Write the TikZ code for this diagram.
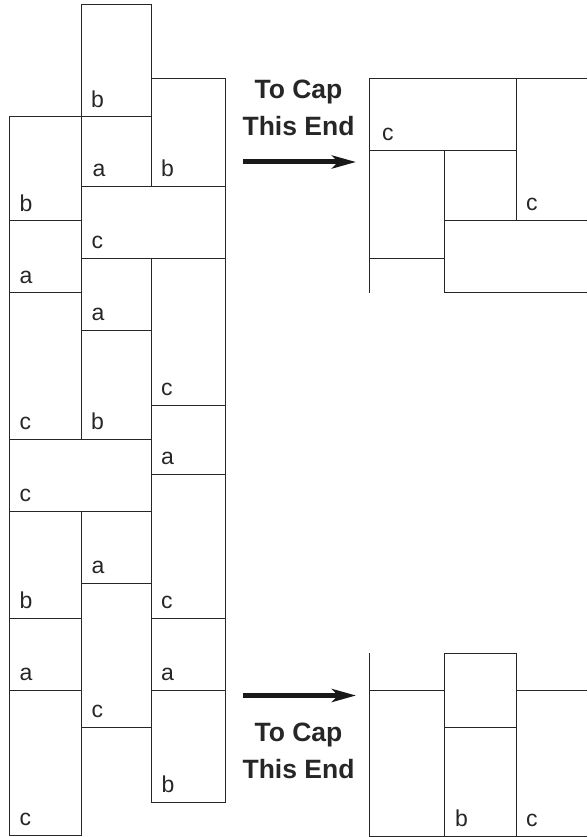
\documentclass[tikz,border=0pt]{standalone}
\usepackage{fontspec}
\setmainfont{Liberation Sans}
\usetikzlibrary{arrows.meta}

\begin{document}
\begin{tikzpicture}[
    x=1pt, y=-1pt,
    brick/.style={draw=black!85, line width=1pt},
    tag/.style={font=\fontsize{23}{26}\selectfont, text=black!85, anchor=base west, inner sep=0pt},
    note/.style={font=\fontsize{26.5}{37}\selectfont\bfseries, text=black!85, align=center, anchor=base, inner sep=0pt},
    capto/.style={-{Stealth[length=24pt, width=13pt, inset=6pt]}, line width=5pt, black!90},
]
\useasboundingbox (0,0) rectangle (587,837);

% left column
\draw[brick] (9.5,117) rectangle (81.5,220.5);
\draw[brick] (9.5,220.5) rectangle (81.5,292.5);
\draw[brick] (9.5,292.5) rectangle (81.5,439);
\draw[brick] (9.5,439) rectangle (151,511);
\draw[brick] (9.5,511) rectangle (81.5,618);
\draw[brick] (9.5,618) rectangle (81.5,690);
\draw[brick] (9.5,690) rectangle (81.5,835);
\node[tag] (l1) at (19.5,211) {b};
\node[tag] (l2) at (19.5,283) {a};
\node[tag] (l3) at (19.5,429.5) {c};
\node[tag] (l4) at (19.5,501.5) {c};
\node[tag] (l5) at (19.5,608.5) {b};
\node[tag] (l6) at (19.5,680.5) {a};
\node[tag] (l7) at (19.5,825.5) {c};

% middle column
\draw[brick] (81.5,5) rectangle (151,117);
\draw[brick] (81.5,117) rectangle (151,186);
\draw[brick] (81.5,186) rectangle (225,258);
\draw[brick] (81.5,258) rectangle (151,330);
\draw[brick] (81.5,330) rectangle (151,439);
\draw[brick] (81.5,511) rectangle (151,583);
\draw[brick] (81.5,583) rectangle (151,727);
\node[tag] (m1) at (91,107.5) {b};
\node[tag] (m2) at (92.5,176.5) {a};
\node[tag] (m3) at (91.5,248.5) {c};
\node[tag] (m4) at (91.5,320.5) {a};
\node[tag] (m5) at (91,429.5) {b};
\node[tag] (m6) at (91.5,573.5) {a};
\node[tag] (m7) at (91.5,717.5) {c};

% right column
\draw[brick] (151,79) rectangle (225,186);
\draw[brick] (151,258) rectangle (225,405);
\draw[brick] (151,405) rectangle (225,474);
\draw[brick] (151,474) rectangle (225,618);
\draw[brick] (151,618) rectangle (225,690);
\draw[brick] (151,690) rectangle (225,802);
\node[tag] (r1) at (161,176.5) {b};
\node[tag] (r2) at (161,395.5) {c};
\node[tag] (r3) at (161,464.5) {a};
\node[tag] (r4) at (161,608.5) {c};
\node[tag] (r5) at (161,680.5) {a};
\node[tag] (r6) at (161.5,792.5) {b};

% upper end
\node[note] (capup) at (298.5,136) {To Cap\\This End};
\coordinate (upfrom) at (243,162);
\coordinate (upto) at (356,162);
\draw[capto] (upfrom) -- (upto);
\draw[brick] (369.5,292.5) -- (369.5,79) -- (587,79);
\draw[brick] (369.5,151) -- (516.5,151);
\draw[brick] (516.5,79) -- (516.5,220.5);
\draw[brick] (369.5,258) -- (444,258);
\draw[brick] (444,151) -- (444,292.5) -- (587,292.5);
\draw[brick] (444,220.5) -- (587,220.5);
\node[tag] (capc1) at (382,141) {c};
\node[tag] (capc2) at (526,210.5) {c};

% lower end
\node[note] (capdown) at (298.5,778) {To Cap\\This End};
\coordinate (downfrom) at (243,695.5);
\coordinate (downto) at (356,695.5);
\draw[capto] (downfrom) -- (downto);
\draw[brick] (369.5,653) -- (369.5,836) -- (587,836);
\draw[brick] (369.5,690) -- (444,690);
\draw[brick] (444,836) -- (444,653) -- (516.5,653) -- (516.5,836);
\draw[brick] (444,727) -- (516.5,727);
\draw[brick] (516.5,690) -- (587,690);
\node[tag] (capb) at (455,826.5) {b};
\node[tag] (capc3) at (526,826.5) {c};

\end{tikzpicture}
\end{document}
